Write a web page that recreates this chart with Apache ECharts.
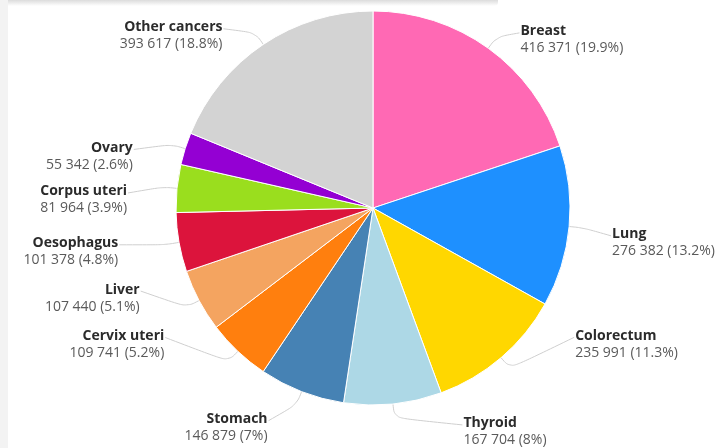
<!DOCTYPE html>
<html><head><meta charset="utf-8">
<script src="https://cdn.jsdelivr.net/npm/echarts@6/dist/echarts.min.js"></script>
<style>
html,body{margin:0;padding:0;background:#f3f3f3;}
#wrap{position:relative;width:726px;height:448px;overflow:hidden;}
#card{position:absolute;left:8px;top:0;width:718px;height:448px;background:#fff;}
#band{position:absolute;left:8px;top:0;width:490px;height:6px;background:linear-gradient(#dcdcdc,#fff);border-bottom-right-radius:4px;}
#chart{position:absolute;left:0;top:0;width:726px;height:448px;}
</style></head>
<body><div id="wrap"><div id="card"></div><div id="band"></div><div id="chart"></div></div>
<script>
const categories = ['Breast','Lung','Colorectum','Thyroid','Stomach','Cervix uteri','Liver','Oesophagus','Corpus uteri','Ovary','Other cancers'];
const values = [416371,276382,235991,167704,146879,109741,107440,101378,81964,55342,393617];
const colors = ['#ff69b4','#1e90ff','#ffd700','#add8e6','#4682b4','#ff7f0e','#f4a460','#dc143c','#9ade1e','#9400d3','#d3d3d3'];

const total = values.reduce((a,b)=>a+b,0);
function fmt(v){return String(v).replace(/\B(?=(\d{3})+(?!\d))/g,' ');}
function pct(v){return String(parseFloat((v/total*100).toFixed(1)));}
// label nudges (style only), matching the reference's label placement
const labelShift = [[-3,3],[2,15],[38,-24],[42,14],[-2,23],[-37,-17],[-20,-9],[-20,7],[-9,13],[-12,12],[-6,3]];
const chart = echarts.init(document.getElementById('chart'), null, {renderer:'canvas'});
chart.setOption({
  animation:false,
  series:[{
    type:'pie',
    center:[373,208],
    radius:197,
    startAngle:90,
    clockwise:true,
    itemStyle:{borderColor:'#fff',borderWidth:1},
    label:{
      formatter:p=>'{n|'+p.name+'}\n{v|'+fmt(p.value)+' ('+pct(p.value)+'%)}',
      rich:{
        n:{fontFamily:'Open Sans',fontWeight:'bold',fontSize:14,color:'#2b2b2b',lineHeight:17},
        v:{fontFamily:'Open Sans',fontSize:14,color:'#5a5a5a',lineHeight:17}
      },
      align:'left'
    },
    labelLine:{length:14,length2:22,smooth:0.4,lineStyle:{color:'#cfcfcf',width:1}},
    labelLayout:p=>{
      const s = labelShift[p.dataIndex];
      const out = {dx:s[0], dy:s[1]};
      const pts = p.labelLinePoints;
      if (pts && pts.length === 3) {
        const left = pts[2][0] < pts[0][0];
        out.labelLinePoints = [pts[0], pts[1], [pts[2][0]+s[0]+(left?-4:4), pts[2][1]+s[1]-7]];
      }
      return out;
    },
    data:categories.map((c,i)=>({name:c,value:values[i],itemStyle:{color:colors[i]}}))
  }]
});
</script></body></html>
